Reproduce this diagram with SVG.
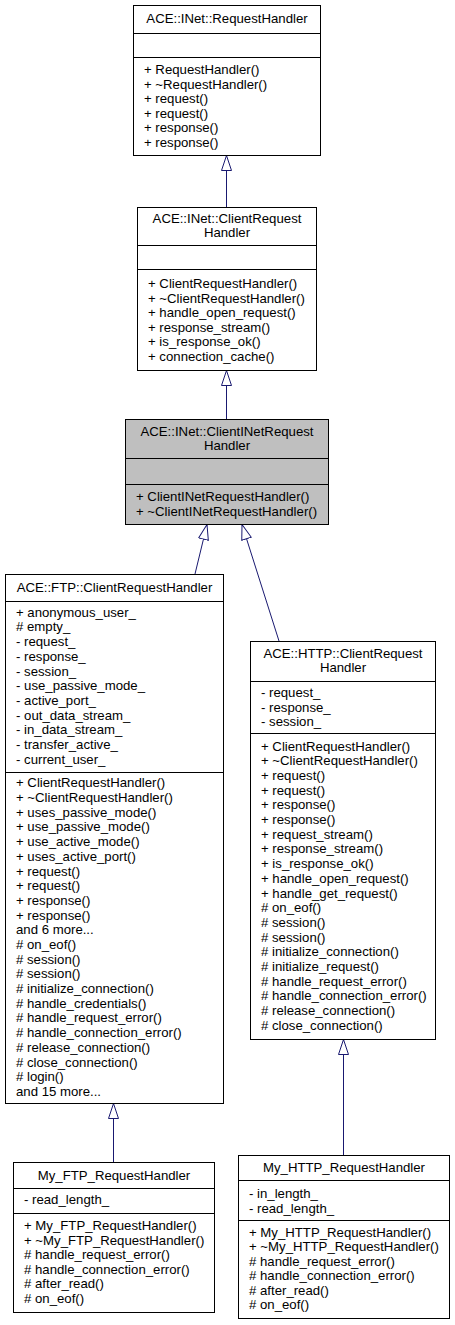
<svg xmlns="http://www.w3.org/2000/svg" width="455" height="1325" viewBox="0 0 455 1325">
<style>
text{font-family:"Liberation Sans",Arial,Helvetica,sans-serif;font-size:13.2px;fill:#000}
.t{text-anchor:middle}
.box{fill:#fff;stroke:#000;stroke-width:1}
.cur{fill:#bfbfbf;stroke:#000;stroke-width:1}
.sep{stroke:#000;stroke-width:1}
.edge{stroke:#191970;stroke-width:1;fill:none;marker-end:url(#inh)}
</style>
<defs>
<marker id="inh" markerUnits="userSpaceOnUse" viewBox="0 0 16 11" markerWidth="16" markerHeight="11" refX="15.5" refY="5.5" orient="auto">
<path d="M15.5,5.5 L0.5,0.5 L0.5,10.5 Z" fill="#fff" stroke="#191970" stroke-width="1"/>
</marker>
</defs>
<rect width="455" height="1325" fill="#fff"/>

<g id="connectors">
<line class="edge" x1="226.5" y1="207" x2="226.5" y2="155.5"/>
<line class="edge" x1="226.5" y1="419" x2="226.5" y2="370.5"/>
<line class="edge" x1="195" y1="574" x2="207" y2="524.5"/>
<line class="edge" x1="279" y1="641" x2="242" y2="524.5"/>
<line class="edge" x1="113.5" y1="1162" x2="113.5" y2="1103.5"/>
<line class="edge" x1="343.5" y1="1155" x2="343.5" y2="1039.5"/>
</g>

<g id="RequestHandler">
<rect class="box" x="133.5" y="5.5" width="187" height="150"/>
<line class="sep" x1="133.5" y1="33.5" x2="320.5" y2="33.5"/>
<line class="sep" x1="133.5" y1="57.5" x2="320.5" y2="57.5"/>
<text class="t" x="227" y="23">ACE::INet::RequestHandler</text>
<text x="144" y="74">
<tspan x="144">+ RequestHandler()</tspan>
<tspan x="144" dy="14.6">+ ~RequestHandler()</tspan>
<tspan x="144" dy="14.6">+ request()</tspan>
<tspan x="144" dy="14.6">+ request()</tspan>
<tspan x="144" dy="14.6">+ response()</tspan>
<tspan x="144" dy="14.6">+ response()</tspan>
</text>
</g>

<g id="ClientRequestHandler">
<rect class="box" x="137.5" y="207.5" width="179" height="163"/>
<line class="sep" x1="137.5" y1="245.5" x2="316.5" y2="245.5"/>
<line class="sep" x1="137.5" y1="269.5" x2="316.5" y2="269.5"/>
<text class="t" x="227" y="223">ACE::INet::ClientRequest</text>
<text class="t" x="227" y="237">Handler</text>
<text x="148" y="288">
<tspan x="148">+ ClientRequestHandler()</tspan>
<tspan x="148" dy="14.6">+ ~ClientRequestHandler()</tspan>
<tspan x="148" dy="14.6">+ handle_open_request()</tspan>
<tspan x="148" dy="14.6">+ response_stream()</tspan>
<tspan x="148" dy="14.6">+ is_response_ok()</tspan>
<tspan x="148" dy="14.6">+ connection_cache()</tspan>
</text>
</g>

<g id="ClientINetRequestHandler">
<rect class="cur" x="125.5" y="419.5" width="203" height="105"/>
<line class="sep" x1="125.5" y1="458.5" x2="328.5" y2="458.5"/>
<line class="sep" x1="125.5" y1="484.5" x2="328.5" y2="484.5"/>
<text class="t" x="227" y="435.5">ACE::INet::ClientINetRequest</text>
<text class="t" x="227" y="450">Handler</text>
<text x="136" y="501">
<tspan x="136">+ ClientINetRequestHandler()</tspan>
<tspan x="136" dy="14.5">+ ~ClientINetRequestHandler()</tspan>
</text>
</g>

<g id="FTP_ClientRequestHandler">
<rect class="box" x="5.5" y="574.5" width="218" height="529"/>
<line class="sep" x1="5.5" y1="601.5" x2="223.5" y2="601.5"/>
<line class="sep" x1="5.5" y1="772.5" x2="223.5" y2="772.5"/>
<text class="t" x="114.5" y="591.5">ACE::FTP::ClientRequestHandler</text>
<text x="16" y="616.7">
<tspan x="16">+ anonymous_user_</tspan>
<tspan x="16" dy="14.7"># empty_</tspan>
<tspan x="16" dy="14.7">- request_</tspan>
<tspan x="16" dy="14.7">- response_</tspan>
<tspan x="16" dy="14.7">- session_</tspan>
<tspan x="16" dy="14.7">- use_passive_mode_</tspan>
<tspan x="16" dy="14.7">- active_port_</tspan>
<tspan x="16" dy="14.7">- out_data_stream_</tspan>
<tspan x="16" dy="14.7">- in_data_stream_</tspan>
<tspan x="16" dy="14.7">- transfer_active_</tspan>
<tspan x="16" dy="14.7">- current_user_</tspan>
</text>
<text x="16" y="787.3">
<tspan x="16">+ ClientRequestHandler()</tspan>
<tspan x="16" dy="14.7">+ ~ClientRequestHandler()</tspan>
<tspan x="16" dy="14.7">+ uses_passive_mode()</tspan>
<tspan x="16" dy="14.7">+ use_passive_mode()</tspan>
<tspan x="16" dy="14.7">+ use_active_mode()</tspan>
<tspan x="16" dy="14.7">+ uses_active_port()</tspan>
<tspan x="16" dy="14.7">+ request()</tspan>
<tspan x="16" dy="14.7">+ request()</tspan>
<tspan x="16" dy="14.7">+ response()</tspan>
<tspan x="16" dy="14.7">+ response()</tspan>
<tspan x="16" dy="14.7">and 6 more...</tspan>
<tspan x="16" dy="14.7"># on_eof()</tspan>
<tspan x="16" dy="14.7"># session()</tspan>
<tspan x="16" dy="14.7"># session()</tspan>
<tspan x="16" dy="14.7"># initialize_connection()</tspan>
<tspan x="16" dy="14.7"># handle_credentials()</tspan>
<tspan x="16" dy="14.7"># handle_request_error()</tspan>
<tspan x="16" dy="14.7"># handle_connection_error()</tspan>
<tspan x="16" dy="14.7"># release_connection()</tspan>
<tspan x="16" dy="14.7"># close_connection()</tspan>
<tspan x="16" dy="14.7"># login()</tspan>
<tspan x="16" dy="14.7">and 15 more...</tspan>
</text>
</g>

<g id="HTTP_ClientRequestHandler">
<rect class="box" x="250.5" y="641.5" width="185" height="398"/>
<line class="sep" x1="250.5" y1="681.5" x2="435.5" y2="681.5"/>
<line class="sep" x1="250.5" y1="733.5" x2="435.5" y2="733.5"/>
<text class="t" x="343" y="658.3">ACE::HTTP::ClientRequest</text>
<text class="t" x="343" y="672.3">Handler</text>
<text x="261" y="697">
<tspan x="261">- request_</tspan>
<tspan x="261" dy="14.6">- response_</tspan>
<tspan x="261" dy="14.6">- session_</tspan>
</text>
<text x="261" y="750.7">
<tspan x="261">+ ClientRequestHandler()</tspan>
<tspan x="261" dy="14.68">+ ~ClientRequestHandler()</tspan>
<tspan x="261" dy="14.68">+ request()</tspan>
<tspan x="261" dy="14.68">+ request()</tspan>
<tspan x="261" dy="14.68">+ response()</tspan>
<tspan x="261" dy="14.68">+ response()</tspan>
<tspan x="261" dy="14.68">+ request_stream()</tspan>
<tspan x="261" dy="14.68">+ response_stream()</tspan>
<tspan x="261" dy="14.68">+ is_response_ok()</tspan>
<tspan x="261" dy="14.68">+ handle_open_request()</tspan>
<tspan x="261" dy="14.68">+ handle_get_request()</tspan>
<tspan x="261" dy="14.68"># on_eof()</tspan>
<tspan x="261" dy="14.68"># session()</tspan>
<tspan x="261" dy="14.68"># session()</tspan>
<tspan x="261" dy="14.68"># initialize_connection()</tspan>
<tspan x="261" dy="14.68"># initialize_request()</tspan>
<tspan x="261" dy="14.68"># handle_request_error()</tspan>
<tspan x="261" dy="14.68"># handle_connection_error()</tspan>
<tspan x="261" dy="14.68"># release_connection()</tspan>
<tspan x="261" dy="14.68"># close_connection()</tspan>
</text>
</g>

<g id="My_FTP_RequestHandler">
<rect class="box" x="13.5" y="1162.5" width="201" height="150"/>
<line class="sep" x1="13.5" y1="1188.5" x2="214.5" y2="1188.5"/>
<line class="sep" x1="13.5" y1="1213.5" x2="214.5" y2="1213.5"/>
<text class="t" x="114" y="1180">My_FTP_RequestHandler</text>
<text x="24" y="1204">- read_length_</text>
<text x="24" y="1230">
<tspan x="24">+ My_FTP_RequestHandler()</tspan>
<tspan x="24" dy="14.6">+ ~My_FTP_RequestHandler()</tspan>
<tspan x="24" dy="14.6"># handle_request_error()</tspan>
<tspan x="24" dy="14.6"># handle_connection_error()</tspan>
<tspan x="24" dy="14.6"># after_read()</tspan>
<tspan x="24" dy="14.6"># on_eof()</tspan>
</text>
</g>

<g id="My_HTTP_RequestHandler">
<rect class="box" x="238.5" y="1155.5" width="211" height="163"/>
<line class="sep" x1="238.5" y1="1180.5" x2="449.5" y2="1180.5"/>
<line class="sep" x1="238.5" y1="1220.5" x2="449.5" y2="1220.5"/>
<text class="t" x="344" y="1172">My_HTTP_RequestHandler</text>
<text x="249" y="1198">
<tspan x="249">- in_length_</tspan>
<tspan x="249" dy="14.6">- read_length_</tspan>
</text>
<text x="249" y="1237">
<tspan x="249">+ My_HTTP_RequestHandler()</tspan>
<tspan x="249" dy="14.4">+ ~My_HTTP_RequestHandler()</tspan>
<tspan x="249" dy="14.4"># handle_request_error()</tspan>
<tspan x="249" dy="14.4"># handle_connection_error()</tspan>
<tspan x="249" dy="14.4"># after_read()</tspan>
<tspan x="249" dy="14.4"># on_eof()</tspan>
</text>
</g>
</svg>
